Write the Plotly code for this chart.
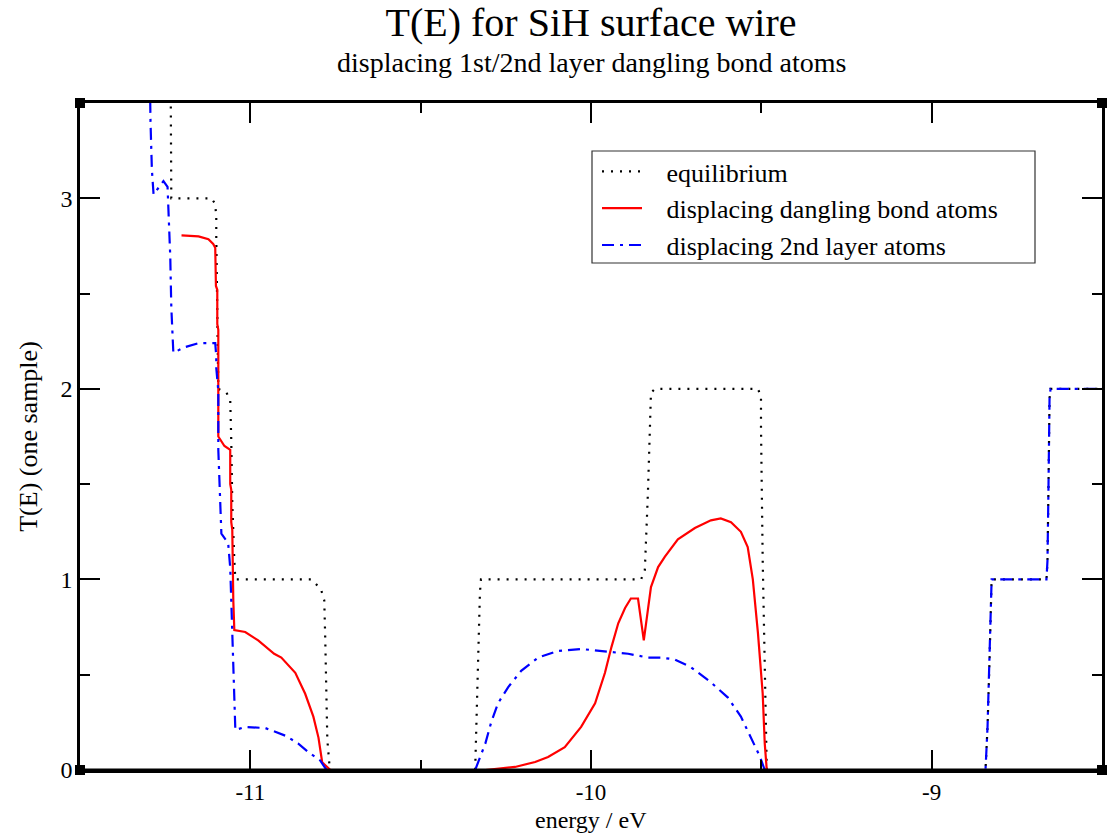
import plotly.graph_objects as go

# ---------------- data ----------------
eq_E = [-11.5, -11.235, -11.232, -11.114, -11.103, -11.100, -11.100, -11.094,
        -11.070, -11.059, -11.056, -11.053, -11.047, -11.044,
        -10.821, -10.809, -10.792, -10.783, -10.780, -10.777, -10.774, -10.768, -10.762,
        -10.340, -10.337, -10.331, -10.326, -10.323,
        -9.853, -9.842, -9.839, -9.833, -9.827, -9.824, -9.812,
        -9.510, -9.501, -9.501, -9.496, -9.490, -9.487, -9.484,
        -8.842, -8.836, -8.830, -8.827, -8.824,
        -8.663, -8.660, -8.657, -8.654, -8.651, -8.5]
eq_T = [4.0, 4.0, 3.0, 3.0, 2.97, 2.90, 2.80, 2.0,
        1.98, 1.94, 1.73, 1.40, 1.10, 1.0,
        1.0, 0.98, 0.945, 0.89, 0.68, 0.37, 0.16, 0.03, 0.0,
        0.0, 0.226, 0.58, 0.93, 1.0,
        1.0, 1.05, 1.17, 1.45, 1.80, 1.98, 2.0,
        2.0, 1.96, 1.80, 1.10, 0.58, 0.17, 0.0,
        0.0, 0.226, 0.58, 0.84, 1.0,
        1.0, 1.10, 1.50, 1.95, 2.0, 2.0]

db_E = [-11.202, -11.152, -11.123, -11.109, -11.103, -11.101, -11.097, -11.097,
        -11.094, -11.094, -11.076, -11.059, -11.059, -11.056, -11.056, -11.053,
        -11.050, -11.047, -11.015, -10.977, -10.930, -10.909, -10.868, -10.839,
        -10.815, -10.800, -10.789, -10.765,
        -10.310, -10.223, -10.164, -10.126, -10.077, -10.029, -9.988, -9.959,
        -9.940, -9.920, -9.900, -9.883, -9.862, -9.845, -9.833, -9.824, -9.803,
        -9.783, -9.745, -9.695, -9.648, -9.619, -9.589, -9.560, -9.540, -9.525,
        -9.510, -9.496, -9.490, -9.484, -8.5]
db_T = [2.805, 2.80, 2.785, 2.76, 2.74, 2.54, 2.52, 2.34,
        2.31, 1.75, 1.70, 1.68, 1.50, 1.47, 1.30, 1.26,
        0.89, 0.734, 0.724, 0.68, 0.61, 0.59, 0.51, 0.40,
        0.28, 0.17, 0.04, 0.0,
        0.0, 0.016, 0.042, 0.068, 0.12, 0.226, 0.35, 0.51,
        0.645, 0.77, 0.85, 0.90, 0.90, 0.68, 0.84, 0.96, 1.065,
        1.12, 1.21, 1.27, 1.31, 1.32, 1.30, 1.25, 1.17, 1.0,
        0.72, 0.40, 0.14, 0.0, 0.0]

l2_E = [-11.5, -11.298, -11.293, -11.289, -11.284, -11.255, -11.243, -11.240,
        -11.235, -11.232, -11.226, -11.190, -11.152, -11.103, -11.100, -11.100,
        -11.094, -11.094, -11.088, -11.085, -11.065, -11.059, -11.056, -11.050,
        -11.044, -11.015, -10.956, -10.897, -10.860, -10.830, -10.795, -10.780,
        -10.775, -10.340, -10.310, -10.293, -10.273, -10.243, -10.205, -10.155,
        -10.097, -10.029, -9.950, -9.891, -9.833, -9.795, -9.754, -9.707,
        -9.648, -9.598, -9.560, -9.531, -9.504, -9.490,
        -8.842, -8.836, -8.830, -8.827, -8.824,
        -8.663, -8.660, -8.657, -8.654, -8.651, -8.5]
l2_T = [4.0, 4.0, 3.4, 3.15, 3.02, 3.09, 3.06, 2.95,
        2.69, 2.43, 2.19, 2.22, 2.24, 2.24, 2.17, 2.11,
        1.99, 1.68, 1.38, 1.24, 1.19, 1.06, 0.89, 0.58,
        0.21, 0.226, 0.22, 0.18, 0.14, 0.094, 0.05, 0.01,
        0.0, 0.0, 0.14, 0.25, 0.35, 0.435, 0.52, 0.59,
        0.625, 0.635, 0.62, 0.61, 0.59, 0.59, 0.58, 0.54,
        0.46, 0.38, 0.28, 0.17, 0.07, 0.0,
        0.0, 0.226, 0.58, 0.84, 1.0,
        1.0, 1.10, 1.50, 1.95, 2.0, 2.0]

series_names = ["equilibrium", "displacing dangling bond atoms", "displacing 2nd layer atoms"]
x_ticks = [-11, -10, -9]
y_ticks = [0, 1, 2, 3]

SERIF = "Liberation Serif"
PAD = "\u00a0\u00a0\u00a0"

fig = go.Figure()
fig.add_trace(go.Scatter(x=eq_E, y=eq_T, mode="lines", name=PAD + series_names[0],
                         line=dict(color="black", width=2.2, dash="2px,7px")))
fig.add_trace(go.Scatter(x=db_E, y=db_T, mode="lines", name=PAD + series_names[1],
                         line=dict(color="#ff0000", width=2.2)))
fig.add_trace(go.Scatter(x=l2_E, y=l2_T, mode="lines", name=PAD + series_names[2],
                         line=dict(color="#0000ff", width=2.2, dash="12px,6px,3px,6px")))

axis_common = dict(
    showline=True, linecolor="black", linewidth=2.5, mirror="allticks",
    ticks="inside", ticklen=20, tickwidth=1.5, tickcolor="black",
    showgrid=False, zeroline=False, layer="above traces", automargin=False,
    tickfont=dict(family=SERIF, size=24, color="black"),
    title_font=dict(family=SERIF, size=26, color="black"),
)

fig.update_xaxes(range=[-11.5, -8.5], tickvals=x_ticks, ticktext=[str(v) for v in x_ticks],
                 minor=dict(ticks="inside", ticklen=10, tickwidth=1.5, tickcolor="black", dtick=0.5, tick0=-11),
                 **axis_common)
fig.update_xaxes(tickfont_size=23, ticklabelstandoff=0)
fig.update_yaxes(range=[0, 3.5], tickvals=y_ticks, ticktext=[str(v) for v in y_ticks],
                 minor=dict(ticks="inside", ticklen=10, tickwidth=1.5, tickcolor="black", dtick=0.5, tick0=0),
                 title_text="T(E) (one sample)", title_standoff=16, **axis_common)

shapes = []
# bottom frame line drawn above the traces so zero-valued segments sit under it
shapes.append(dict(type="line", xref="paper", yref="paper", x0=0, x1=1, y0=0, y1=0,
                   line=dict(color="black", width=3), layer="above"))
for cx, cy in [(0, 0), (1, 0), (0, 1), (1, 1)]:
    shapes.append(dict(type="rect", xref="paper", yref="paper",
                       xsizemode="pixel", ysizemode="pixel",
                       xanchor=cx, yanchor=cy, x0=-5, x1=5, y0=-5, y1=5,
                       fillcolor="black", line=dict(width=0)))
# legend frame
shapes.append(dict(type="rect", xref="paper", yref="paper",
                   x0=(592 - 80) / 1022, x1=(1035 - 80) / 1022,
                   y0=1 - (263 - 103) / 667, y1=1 - (151 - 103) / 667,
                   fillcolor="white", line=dict(color="#333333", width=1.2), layer="below"))

fig.update_layout(
    width=1109, height=834,
    margin=dict(l=80, r=7, t=103, b=64),
    paper_bgcolor="white", plot_bgcolor="rgba(0,0,0,0)",
    font=dict(family=SERIF, color="black"),
    title=dict(text="T(E) for SiH surface wire", x=0.5, xref="paper", xanchor="center",
               y=1 - 22 / 834, yref="container", yanchor="middle",
               font=dict(family=SERIF, size=40, color="black")),
    annotations=[
        dict(text="displacing 1st/2nd layer dangling bond atoms", xref="paper", yref="paper",
             x=0.5, y=1 + (103 - 62) / 667, xanchor="center", yanchor="middle",
             showarrow=False, font=dict(family=SERIF, size=28, color="black")),
        dict(text="energy / eV", xref="paper", yref="paper",
             x=0.5, y=-(834 - 770) / 667, xanchor="center", yanchor="bottom",
             borderpad=0, showarrow=False, font=dict(family=SERIF, size=24, color="black")),
    ],
    legend=dict(x=(597 - 80) / 1022, y=1 - (148 - 103) / 667, xanchor="left", yanchor="top",
                bgcolor="rgba(0,0,0,0)", borderwidth=0,
                font=dict(family=SERIF, size=26, color="black"),
                itemwidth=40, tracegroupgap=0),
    shapes=shapes,
    showlegend=True,
)

fig.write_html("out.html")
